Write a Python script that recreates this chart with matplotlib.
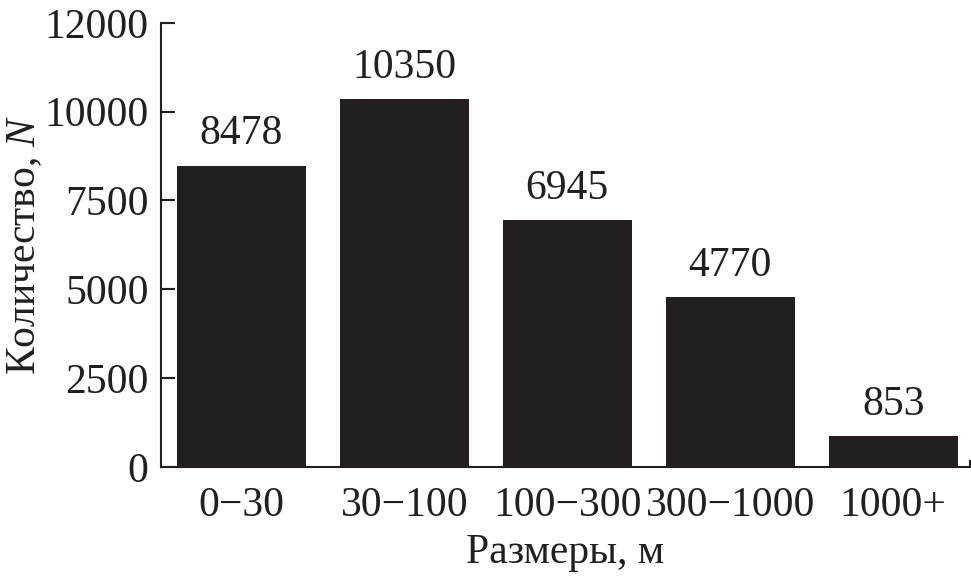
import matplotlib.pyplot as plt
import numpy as np

categories = ['0\u221230', '30\u2212100', '100\u2212300', '300\u22121000', '1000+']
counts = [8478, 10350, 6945, 4770, 853]
ytick_vals = [0, 2500, 5000, 7500, 10000, 12500]
ytick_labels = ['0', '2500', '5000', '7500', '10000', '12000']

plt.rcParams['font.family'] = ['Liberation Serif', 'DejaVu Serif']
plt.rcParams['mathtext.fontset'] = 'custom'
plt.rcParams['mathtext.it'] = 'Liberation Serif:italic'

fig = plt.figure(figsize=(9.71, 5.82), dpi=100)
ax = fig.add_axes([0.1658, 0.198, 0.833, 0.7625])

x = np.arange(len(categories))
bars = ax.bar(x, counts, width=0.79, color='#231f20')
ax.bar_label(bars, labels=[str(c) for c in counts], padding=9, fontsize=30, color='#231f20')

ax.set_xlim(-0.494, 4.47)
ax.set_ylim(0, 12500)
ax.set_xticks(x)
ax.set_xticklabels(categories)
ax.set_yticks(ytick_vals)
ax.set_yticklabels(ytick_labels)
ax.set_xticks([4.47], minor=True)

for s in ['top', 'right']:
    ax.spines[s].set_visible(False)
for s in ['left', 'bottom']:
    ax.spines[s].set_linewidth(1.5)
    ax.spines[s].set_color('#231f20')

ax.tick_params(axis='y', direction='in', length=10, width=1.5, pad=9,
               labelsize=30, colors='#231f20')
ax.tick_params(axis='x', which='major', length=0, pad=14, labelsize=30,
               colors='#231f20')
ax.tick_params(axis='x', which='minor', direction='in', length=5, width=1.5,
               colors='#231f20')

ax.set_xlabel('Размеры, м', fontsize=30, color='#231f20', labelpad=6)
ax.set_ylabel('Количество, $N$', fontsize=30, color='#231f20', labelpad=0)

fig.savefig('out.png', dpi=100)
